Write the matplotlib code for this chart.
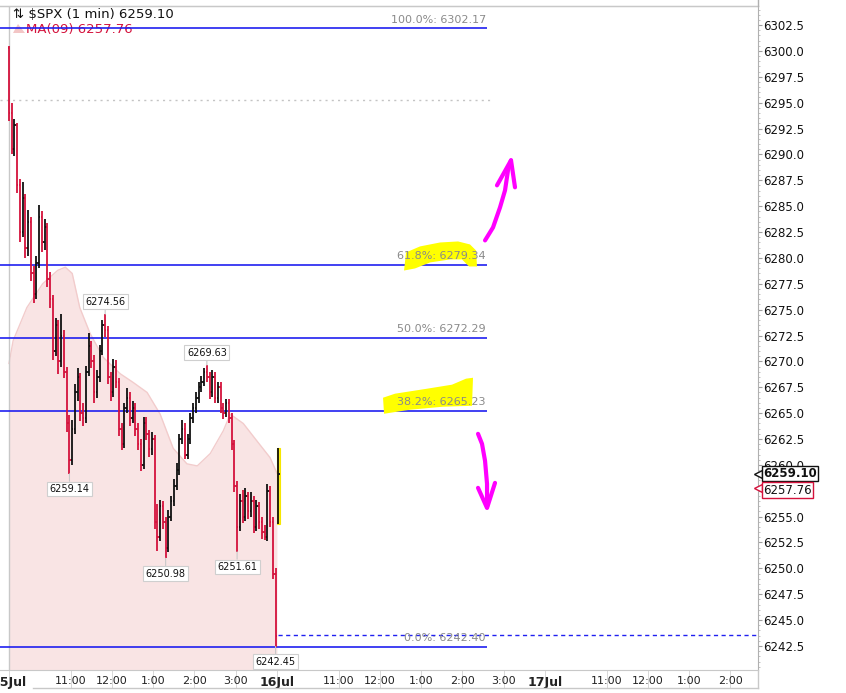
import matplotlib
matplotlib.use("Agg")
import matplotlib.pyplot as plt
from matplotlib.collections import LineCollection
from matplotlib.lines import Line2D
from matplotlib.patches import Polygon
from matplotlib.ticker import MultipleLocator, FormatStrFormatter
from matplotlib.transforms import blended_transform_factory
import numpy as np

# ---------------- data (15 Jul, 4-minute sampled OHLC of $SPX 1-min chart) ----------------
bar_step_min = 4
opens = [6300.3, 6294.0, 6290.5, 6292.8, 6287.0, 6282.5, 6285.8, 6281.0, 6283.5, 6278.5,
         6276.5, 6279.5, 6284.0, 6281.5, 6283.0, 6278.0, 6276.0, 6271.0, 6273.5, 6270.0,
         6272.5, 6269.0, 6264.0, 6260.5, 6263.5, 6267.0, 6268.5, 6265.0, 6264.5, 6269.0,
         6271.5, 6270.0, 6267.0, 6268.5, 6271.0, 6273.5, 6273.0, 6268.5, 6267.0, 6269.5,
         6268.0, 6263.5, 6262.0, 6265.5, 6266.5, 6264.5, 6265.5, 6263.5, 6262.0, 6260.0,
         6264.0, 6263.0, 6261.5, 6262.5, 6254.5, 6253.0, 6256.0, 6254.5, 6252.0, 6255.0,
         6256.5, 6258.0, 6259.5, 6262.5, 6263.5, 6261.0, 6262.5, 6264.5, 6265.5, 6266.5,
         6267.5, 6268.0, 6269.0, 6268.5, 6267.0, 6268.5, 6266.5, 6267.5, 6265.5, 6265.0,
         6266.0, 6264.5, 6262.0, 6258.0, 6254.0, 6256.5, 6255.0, 6257.0, 6255.5, 6256.5,
         6254.0, 6256.0, 6254.5, 6253.5, 6253.0, 6257.5, 6254.5, 6249.5]
highs = [6300.5, 6295.0, 6293.4, 6293.0, 6287.6, 6287.3, 6286.2, 6284.6, 6284.0, 6279.2,
         6280.2, 6285.1, 6284.5, 6283.8, 6283.4, 6278.6, 6276.4, 6274.2, 6274.0, 6274.6,
         6273.0, 6269.5, 6264.8, 6264.3, 6267.8, 6269.4, 6268.9, 6266.0, 6269.6, 6272.7,
         6272.0, 6270.6, 6269.2, 6271.6, 6274.0, 6274.56, 6273.4, 6269.0, 6270.2, 6270.1,
         6268.4, 6264.0, 6266.0, 6267.4, 6267.0, 6266.2, 6266.0, 6264.0, 6262.5, 6264.6,
         6264.6, 6263.4, 6263.2, 6262.9, 6256.2, 6256.6, 6256.5, 6255.0, 6255.6, 6257.0,
         6258.6, 6260.2, 6263.0, 6264.3, 6264.0, 6263.0, 6265.0, 6266.0, 6267.0, 6268.0,
         6268.6, 6269.4, 6269.63, 6269.0, 6269.2, 6269.0, 6268.0, 6268.0, 6266.0, 6266.4,
         6266.4, 6265.0, 6262.4, 6258.4, 6257.2, 6257.6, 6257.8, 6257.4, 6257.4, 6257.0,
         6256.6, 6256.4, 6255.0, 6254.2, 6258.2, 6258.0, 6255.0, 6250.0]
lows = [6293.2, 6290.0, 6289.8, 6286.3, 6281.5, 6282.0, 6280.0, 6280.2, 6277.8, 6275.6,
        6276.0, 6279.0, 6280.6, 6280.8, 6277.2, 6275.2, 6270.1, 6270.5, 6268.8, 6269.5,
        6268.4, 6263.2, 6259.14, 6260.0, 6263.0, 6266.2, 6264.2, 6263.8, 6264.0, 6268.6,
        6269.4, 6266.0, 6266.5, 6268.0, 6270.6, 6272.4, 6267.8, 6266.2, 6266.6, 6267.4,
        6262.8, 6261.4, 6261.6, 6265.0, 6263.8, 6264.0, 6262.8, 6261.4, 6259.4, 6259.6,
        6262.4, 6260.8, 6261.0, 6253.8, 6251.7, 6252.6, 6253.8, 6250.98, 6251.6, 6254.6,
        6256.0, 6257.6, 6259.0, 6262.0, 6260.6, 6260.6, 6262.0, 6264.0, 6265.0, 6266.0,
        6267.0, 6267.6, 6268.0, 6266.4, 6266.6, 6266.0, 6266.0, 6265.0, 6264.4, 6264.6,
        6264.0, 6261.4, 6257.4, 6251.61, 6253.6, 6254.4, 6254.6, 6254.8, 6255.0, 6253.4,
        6253.6, 6253.8, 6252.8, 6252.7, 6252.6, 6254.0, 6249.0, 6242.45]
closes = [6294.0, 6290.5, 6292.8, 6287.0, 6282.5, 6285.8, 6281.0, 6283.5, 6278.5, 6276.5,
          6279.5, 6284.0, 6281.5, 6283.0, 6278.0, 6276.0, 6271.0, 6273.5, 6270.0, 6272.5,
          6269.0, 6264.0, 6260.5, 6263.5, 6267.0, 6268.5, 6265.0, 6264.5, 6269.0, 6271.5,
          6270.0, 6267.0, 6268.5, 6271.0, 6273.5, 6273.0, 6268.5, 6267.0, 6269.5, 6268.0,
          6263.5, 6262.0, 6265.5, 6266.5, 6264.5, 6265.5, 6263.5, 6262.0, 6260.0, 6264.0,
          6263.0, 6261.5, 6262.5, 6254.5, 6253.0, 6256.0, 6254.5, 6252.0, 6255.0, 6256.5,
          6258.0, 6259.5, 6262.5, 6263.5, 6261.0, 6262.5, 6264.5, 6265.5, 6266.5, 6267.5,
          6268.0, 6269.0, 6268.5, 6267.0, 6268.5, 6266.5, 6267.5, 6265.5, 6265.0, 6266.0,
          6264.5, 6262.0, 6258.0, 6254.0, 6256.5, 6255.0, 6257.0, 6255.5, 6256.5, 6254.0,
          6256.0, 6254.5, 6253.5, 6253.0, 6257.5, 6254.5, 6249.5, 6243.5]

# current (16 Jul first) bar
cur_time = 392
cur_ohlc = [6255.0, 6261.6, 6254.3, 6259.10]
ma_last = 6257.76

# moving-average shaded curve (minute, price)
ma_t = [0, 6, 26, 49, 71, 82, 92, 103, 118, 137, 162, 180, 201, 220, 239, 259, 274, 293,
        312, 322, 341, 361, 380, 390]
ma_p = [6269.8, 6272.0, 6275.2, 6277.5, 6278.8, 6279.1, 6278.5, 6275.2, 6272.7, 6270.4,
        6268.8, 6268.0, 6267.0, 6264.9, 6261.6, 6260.1, 6259.9, 6261.1, 6263.3, 6264.9,
        6264.0, 6262.3, 6260.7, 6259.2]

# Fibonacci retracement levels
fib_pct = ["100.0%", "61.8%", "50.0%", "38.2%", "0.0%"]
fib_val = [6302.17, 6279.34, 6272.29, 6265.23, 6242.40]
prev_close_dash = 6243.55
dotted_level = 6295.24

# labelled swing points (bar index, is_high)
swing_idx = [35, 72, 22, 57, 83, 97]
swing_high = [True, True, False, False, False, False]

# x axis ticks (trading minutes from 15 Jul 9:30; one session = 390 min)
xtick_pos = [0, 90, 150, 210, 270, 330, 390, 480, 540, 600, 660, 720, 780, 870, 930, 990, 1050]
xtick_lab = ["15Jul", "11:00", "12:00", "1:00", "2:00", "3:00", "16Jul", "11:00", "12:00",
             "1:00", "2:00", "3:00", "17Jul", "11:00", "12:00", "1:00", "2:00"]

# hand-drawn annotations (minute, price)
yel1_t = [575.0, 577.9, 598.3, 627.4, 653.6, 671.0, 679.8, 681.2, 669.6, 659.4, 641.9, 612.8, 591.0]
yel1_p = [6278.78, 6280.53, 6281.11, 6281.49, 6281.59, 6281.30, 6280.72, 6279.17, 6279.17,
          6279.85, 6279.85, 6279.56, 6278.98]
yel2_t = [544.4, 545.9, 583.7, 631.7, 673.9, 675.4, 665.2, 644.8, 608.4, 561.9]
yel2_p = [6266.49, 6264.94, 6265.33, 6265.62, 6265.71, 6268.42, 6268.33, 6267.75, 6267.36, 6266.88]
up_t = [692.9, 704.5, 714.7, 722.0, 726.3, 730.7]
up_p = [6281.69, 6282.94, 6284.88, 6286.53, 6288.46, 6289.43]
uph_t = [710.3, 730.7, 736.5]
uph_p = [6287.01, 6289.43, 6286.82]
dn_t = [682.7, 688.5, 692.9, 695.8, 695.8]
dn_p = [6263.00, 6262.03, 6260.39, 6258.16, 6255.94]
dnh_t = [682.7, 695.8, 707.4]
dnh_p = [6257.78, 6255.84, 6258.26]

# ---------------- figure ----------------
W, H = 846, 693
fig = plt.figure(figsize=(W / 100, H / 100), dpi=100, facecolor="white")
ax = fig.add_axes([0, 1 - 670 / H, 758 / W, 664 / H])
XMIN, XMAX = -13.1, 1090.2
YMIN, YMAX = 6240.18, 6304.34
ax.set_xlim(XMIN, XMAX)
ax.set_ylim(YMIN, YMAX)

RED = "#d4123c"
BLUE = "#2020f0"
GREY_TXT = "#8a8a8a"

# MA shaded area
ax.fill_between(ma_t, ma_p, YMIN - 5, color="#f9e4e4", lw=0, zorder=1)
ax.plot(ma_t, ma_p, color="#f2cccc", lw=1.0, zorder=1.1)

# session separator
ax.axvline(0, color="#c8c8c8", lw=1.0, zorder=1.2)

# dotted level
ax.hlines(dotted_level, XMIN, 704.5, colors="#c4c4c4", linestyles=(0, (1.5, 3)), lw=1.0, zorder=2)

# fib lines and labels
ax.hlines(fib_val, XMIN, 695.8, colors=BLUE, lw=1.2, zorder=3)
for pct, v in zip(fib_pct, fib_val):
    ax.text(694, v + 0.35, f"{pct}: {v:.2f}", ha="right", va="bottom", fontsize=8,
            color=GREY_TXT, zorder=5)
ax.hlines(prev_close_dash, 391.6, XMAX, colors=BLUE, linestyles=(0, (3, 2.5)), lw=1.0, zorder=3)

# yellow highlighter strokes
ax.add_patch(Polygon(np.column_stack([yel1_t, yel1_p]), closed=True, fc="#ffff00", ec="none", zorder=4))
ax.add_patch(Polygon(np.column_stack([yel2_t, yel2_p]), closed=True, fc="#ffff00", ec="none", zorder=4))

# OHLC bars
times = np.arange(len(closes)) * bar_step_min
segs, cols = [], []
tk = 1.8
for t, o, h, l, c in zip(times, opens, highs, lows, closes):
    col = "#111111" if c >= o else RED
    segs += [[(t, l), (t, h)], [(t - tk, o), (t, o)], [(t, c), (t + tk, c)]]
    cols += [col] * 3
ax.add_collection(LineCollection(segs, colors=cols, linewidths=1.3, zorder=3.5))

# current bar with yellow highlight
o, h, l, c = cur_ohlc
ax.add_patch(Polygon([(cur_time - 2.6, l), (cur_time + 2.6, l), (cur_time + 2.6, h), (cur_time - 2.6, h)],
                     closed=True, fc="#fff21a", ec="#f5e600", lw=0.8, zorder=3.4))
ax.add_collection(LineCollection([[(cur_time, l), (cur_time, h)], [(cur_time, c), (cur_time + tk, c)]],
                                 colors="#111111", linewidths=1.3, zorder=3.6))

# swing point labels
for idx, is_h in zip(swing_idx, swing_high):
    t = times[idx]
    v = highs[idx] if is_h else lows[idx]
    dy = 9 if is_h else -11
    ax.annotate(f"{v:.2f}", xy=(t, v), xytext=(0, dy), textcoords="offset points",
                ha="center", va="center", fontsize=7, color="#111111", zorder=6,
                bbox=dict(boxstyle="square,pad=0.25", fc="white", ec="#cfcfcf", lw=0.8),
                arrowprops=dict(arrowstyle="-", color="#c8c8c8", lw=0.8, shrinkA=0, shrinkB=0))

# magenta hand-drawn arrows
for tt, pp in [(up_t, up_p), (uph_t, uph_p), (dn_t, dn_p), (dnh_t, dnh_p)]:
    ax.plot(tt, pp, color="#ff00ff", lw=3.0, solid_capstyle="round", solid_joinstyle="round", zorder=7)

# axes styling
ax.spines["left"].set_visible(False)
for s in ["top", "bottom"]:
    ax.spines[s].set_color("#c8c8c8")
ax.spines["right"].set_color("#b0b0b0")

ax.yaxis.tick_right()
ax.set_yticks(np.arange(6242.5, 6303.0, 2.5))
ax.yaxis.set_major_formatter(FormatStrFormatter("%.1f"))
ax.yaxis.set_minor_locator(MultipleLocator(0.5))
ax.tick_params(axis="y", which="major", length=3, width=0.8, color="#a0a0a0", pad=1,
               labelsize=8.5, labelcolor="#111111")
ax.tick_params(axis="y", which="minor", length=1.5, width=0.6, color="#b8b8b8")

ax.set_xticks(xtick_pos)
ax.set_xticklabels(xtick_lab)
ax.tick_params(axis="x", which="major", length=13, width=0.7, color="#d8d8d8", pad=-8.5,
               labelsize=8, labelcolor="#222222")
for lab in ax.get_xticklabels():
    if "Jul" in lab.get_text():
        lab.set_fontweight("bold")
        lab.set_fontsize(9)

# current-price tags on the right axis
btr = blended_transform_factory(ax.transAxes, ax.transData)
for val, dyo, ec, fw in [(c, 0.5, "#111111", "bold"), (ma_last, -1.5, RED, "normal")]:
    ax.annotate("", xy=(1.0, val), xycoords=btr, xytext=(0, dyo), textcoords="offset points")
    ax.plot([1.0], [val], transform=btr, marker="<", ms=6, mfc="white", mec=ec,
            mew=1.0, clip_on=False, zorder=7.9)
    ax.annotate(f"{val:.2f}", xy=(1.0, val), xycoords=("axes fraction", "data"), xytext=(4, dyo),
                textcoords="offset points", ha="left", va="center", fontsize=8.5, fontweight=fw,
                color="#111111", zorder=8, annotation_clip=False,
                bbox=dict(boxstyle="square,pad=0.1", fc="white", ec=ec, lw=1.0))

# header legend (drawn below the fib lines)
ax.text(13 / W, 1 - 15 / H, "\u21c5 $SPX (1 min) 6259.10", transform=fig.transFigure,
        fontsize=9.5, color="#111111", va="center", ha="left", zorder=2, clip_on=False)
ax.add_patch(Polygon([(13 / W, 1 - 33 / H), (18 / W, 1 - 24 / H), (25 / W, 1 - 33 / H)],
                     closed=True, transform=fig.transFigure, fc="#f3c6c6", ec="none",
                     zorder=2, clip_on=False))
ax.text(26 / W, 1 - 29 / H, f"MA(09) {ma_last:.2f}", transform=fig.transFigure,
        fontsize=9.5, color=RED, va="center", ha="left", zorder=2, clip_on=False)

# panel borders
fig.add_artist(Line2D([33 / W, 758 / W], [1 - 688 / H] * 2, color="#c8c8c8", lw=1.0))
fig.add_artist(Line2D([758 / W, 758 / W], [1 - 670 / H, 1 - 688 / H], color="#c8c8c8", lw=1.0))
fig.add_artist(Line2D([0, 758 / W], [1 - 6 / H] * 2, color="#c8c8c8", lw=1.0))
fig.add_artist(Line2D([758 / W, 758 / W], [1 - 6 / H, 1.0], color="#b0b0b0", lw=1.0))

fig.savefig("out.png", dpi=100, facecolor="white")
